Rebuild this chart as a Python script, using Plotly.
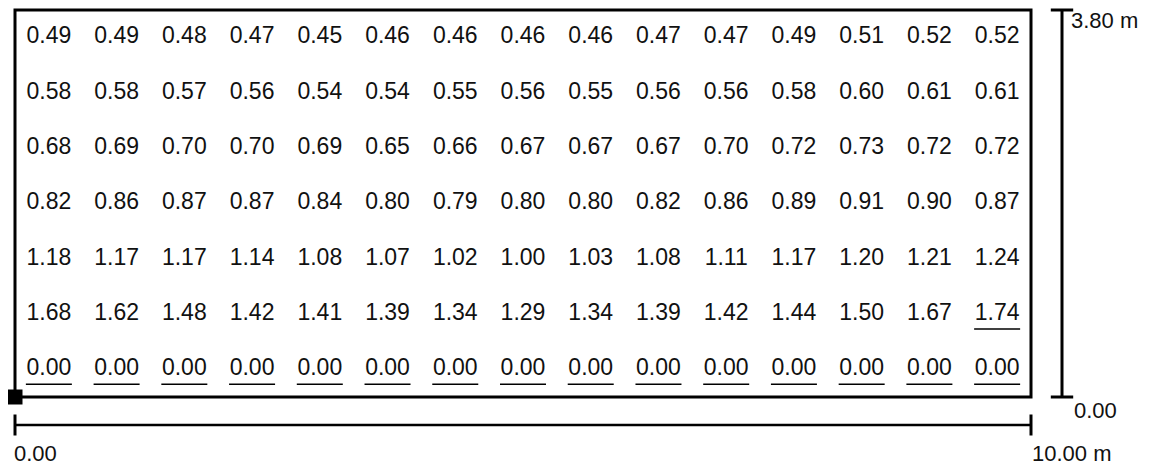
import plotly.graph_objects as go

room_width = 10.0
room_height = 3.8
row_values = [
    [0.49, 0.49, 0.48, 0.47, 0.45, 0.46, 0.46, 0.46, 0.46, 0.47, 0.47, 0.49, 0.51, 0.52, 0.52],
    [0.58, 0.58, 0.57, 0.56, 0.54, 0.54, 0.55, 0.56, 0.55, 0.56, 0.56, 0.58, 0.60, 0.61, 0.61],
    [0.68, 0.69, 0.70, 0.70, 0.69, 0.65, 0.66, 0.67, 0.67, 0.67, 0.70, 0.72, 0.73, 0.72, 0.72],
    [0.82, 0.86, 0.87, 0.87, 0.84, 0.80, 0.79, 0.80, 0.80, 0.82, 0.86, 0.89, 0.91, 0.90, 0.87],
    [1.18, 1.17, 1.17, 1.14, 1.08, 1.07, 1.02, 1.00, 1.03, 1.08, 1.11, 1.17, 1.20, 1.21, 1.24],
    [1.68, 1.62, 1.48, 1.42, 1.41, 1.39, 1.34, 1.29, 1.34, 1.39, 1.42, 1.44, 1.50, 1.67, 1.74],
    [0.00, 0.00, 0.00, 0.00, 0.00, 0.00, 0.00, 0.00, 0.00, 0.00, 0.00, 0.00, 0.00, 0.00, 0.00],
]
x_label_start = "0.00"
x_label_end = "10.00 m"
y_label_start = "0.00"
y_label_end = "3.80 m"

FONT = "Liberation Sans, Arial, sans-serif"
PAGE_W, PAGE_H = 1149, 466
OFF = 8  # default body margin of the page
W, H = PAGE_W - OFF, PAGE_H - OFF

# reference pixel positions (page coordinates) of the room box
BOX_L, BOX_R, BOX_T, BOX_B = 15, 1031, 10, 397
px_per_m_x = (BOX_R - BOX_L) / room_width
px_per_m_y = (BOX_B - BOX_T) / room_height

n_rows = len(row_values)
n_cols = len(row_values[0])
dx = room_width / n_cols
dy = room_height / n_rows

all_vals = [v for r in row_values for v in r]
vmin, vmax = min(all_vals), max(all_vals)

xs, ys, texts = [], [], []
ux, uy = [], []
for j, row in enumerate(row_values):
    yc = room_height - (j + 0.5) * dy
    for i, v in enumerate(row):
        xc = (i + 0.5) * dx
        xs.append(xc)
        ys.append(yc)
        texts.append(f"{v:.2f}")
        if v == vmin or v == vmax:
            half = 23 / px_per_m_x
            off = 15 / px_per_m_y
            ux += [xc - half, xc + half, None]
            uy += [yc - off, yc - off, None]

fig = go.Figure()

# room outline
fig.add_trace(go.Scatter(
    x=[0, room_width, room_width, 0, 0], y=[0, 0, room_height, room_height, 0],
    mode="lines", line=dict(color="black", width=3), hoverinfo="skip",
    cliponaxis=False))

# values
fig.add_trace(go.Scatter(
    x=xs, y=ys, text=texts, mode="text", textposition="middle center",
    textfont=dict(family=FONT, size=23, color="#111111"), hoverinfo="skip"))

# underlines for min / max
fig.add_trace(go.Scatter(x=ux, y=uy, mode="lines",
                         line=dict(color="black", width=1.5), hoverinfo="skip"))

# origin marker
fig.add_trace(go.Scatter(x=[0], y=[0], mode="markers",
                         marker=dict(symbol="square", size=15, color="black"),
                         hoverinfo="skip", cliponaxis=False))

# vertical scale bar
vx = room_width + (1062 - BOX_R) / px_per_m_x
fig.add_trace(go.Scatter(x=[vx, vx], y=[0, room_height], mode="lines+markers",
                         line=dict(color="black", width=3),
                         marker=dict(symbol="line-ew", size=16,
                                     line=dict(color="black", width=3)),
                         hoverinfo="skip", cliponaxis=False))
# horizontal scale bar
hy = -(425 - BOX_B) / px_per_m_y
fig.add_trace(go.Scatter(x=[0, room_width], y=[hy, hy], mode="lines+markers",
                         line=dict(color="black", width=2.5),
                         marker=dict(symbol="line-ns", size=15,
                                     line=dict(color="black", width=3)),
                         hoverinfo="skip", cliponaxis=False))

ann_font = dict(family=FONT, size=22, color="#111111")
fig.add_annotation(x=vx, y=room_height, xref="x", yref="y", text=y_label_end,
                   showarrow=False, xanchor="left", yanchor="middle",
                   xshift=7, yshift=-10, font=ann_font)
fig.add_annotation(x=vx, y=0, xref="x", yref="y", text=y_label_start,
                   showarrow=False, xanchor="left", yanchor="middle",
                   xshift=10, yshift=-13, font=ann_font)
fig.add_annotation(x=0, y=hy, xref="x", yref="y", text=x_label_start,
                   showarrow=False, xanchor="left", yanchor="middle",
                   xshift=-3, yshift=-28, font=ann_font)
fig.add_annotation(x=room_width, y=hy, xref="x", yref="y", text=x_label_end,
                   showarrow=False, xanchor="left", yanchor="middle",
                   xshift=-1, yshift=-28, font=ann_font)

# axis ranges so that the box lands at its reference pixels
x0 = -(BOX_L - OFF) / px_per_m_x
x1 = room_width + (PAGE_W - BOX_R) / px_per_m_x
y0 = -(PAGE_H - BOX_B) / px_per_m_y
y1 = room_height + (BOX_T - OFF) / px_per_m_y

fig.update_layout(
    width=W, height=H, margin=dict(l=0, r=0, t=0, b=0),
    paper_bgcolor="white", plot_bgcolor="white", showlegend=False,
    xaxis=dict(range=[x0, x1], visible=False, fixedrange=True),
    yaxis=dict(range=[y0, y1], visible=False, fixedrange=True),
)

fig.write_html("out.html")
